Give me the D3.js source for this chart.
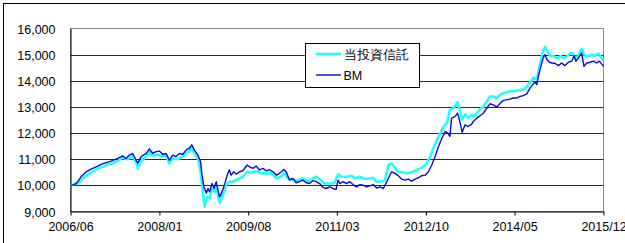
<!DOCTYPE html>
<html>
<head>
<meta charset="utf-8">
<script src="https://cdn.jsdelivr.net/npm/d3@7"></script>
<style>
  html, body { margin: 0; padding: 0; background: #fff; }
  svg { display: block; }
  text { font-family: "Liberation Sans", Arial, sans-serif; fill: #000; }
</style>
</head>
<body>
<script>
// ---- data ----
const seriesNames = ["当投資信託", "BM"];
const yTicks = [9000, 10000, 11000, 12000, 13000, 14000, 15000, 16000];
const xTickLabels = ["2006/06", "2008/01", "2009/08", "2011/03", "2012/10", "2014/05", "2015/12"];

const fundDates = [
"2006-06-01","2006-07-18","2006-08-20","2006-09-22","2006-10-25","2006-11-26","2006-12-29","2007-01-31","2007-03-02","2007-04-04",
"2007-05-06","2007-06-08","2007-07-11","2007-08-02","2007-08-13","2007-09-04","2007-10-06","2007-10-28","2007-11-19","2007-12-21",
"2008-01-23","2008-02-14","2008-03-06","2008-03-27","2008-04-29","2008-06-01","2008-06-22","2008-07-14","2008-07-29","2008-08-16",
"2008-09-07","2008-09-25","2008-10-16","2008-10-21","2008-11-07","2008-11-23","2008-12-08","2008-12-26","2009-01-08","2009-01-21",
"2009-01-30","2009-02-17","2009-03-10","2009-04-01","2009-04-22","2009-05-14","2009-06-06","2009-06-27","2009-07-25","2009-08-21",
"2009-09-22","2009-10-25","2009-11-26","2009-12-29","2010-02-01","2010-03-03","2010-03-25","2010-04-16","2010-05-19","2010-06-20",
"2010-07-23","2010-08-25","2010-09-26","2010-10-18","2010-11-09","2010-12-12","2011-01-14","2011-02-15","2011-03-09","2011-04-01",
"2011-05-03","2011-06-05","2011-06-26","2011-07-29","2011-08-31","2011-10-02","2011-10-24","2011-11-15","2011-12-18","2012-01-09",
"2012-01-31","2012-02-21","2012-03-13","2012-04-04","2012-04-26","2012-05-28","2012-06-30","2012-08-02","2012-09-04","2012-10-06",
"2012-10-28","2012-11-19","2012-12-11","2013-01-02","2013-01-24","2013-02-14","2013-03-06","2013-03-28","2013-04-25","2013-05-10",
"2013-05-25","2013-06-12","2013-07-03","2013-07-26","2013-08-05","2013-08-28","2013-09-18","2013-10-10","2013-11-01","2013-11-22",
"2013-12-14","2014-01-06","2014-01-28","2014-02-17","2014-03-10","2014-04-01","2014-04-22","2014-05-14","2014-06-05","2014-06-26",
"2014-07-19","2014-08-10","2014-09-01","2014-09-14","2014-09-23","2014-10-03","2014-10-19","2014-11-01","2014-11-16","2014-12-01",
"2014-12-18","2015-01-09","2015-02-04","2015-02-25","2015-03-18","2015-04-09","2015-04-27","2015-05-14","2015-05-29","2015-06-20",
"2015-07-12","2015-08-03","2015-08-25","2015-09-16","2015-10-07","2015-10-29","2015-11-20","2015-12-01"
];
const fundValues = [
10000,10070,10270,10420,10520,10650,10710,10800,10840,10930,
11060,11000,11130,10900,10650,10930,11100,11260,11130,11180,
11100,11130,10840,11030,11000,11100,11220,11310,11420,11220,
11030,10520,9430,9180,9560,9500,9880,9750,9940,9430,
9330,9620,10010,10140,10140,10200,10270,10330,10520,10480,
10560,10460,10460,10460,10270,10330,10480,10270,10200,10180,
10270,10140,10270,10330,10230,10070,10070,10100,10420,10330,
10330,10370,10270,10330,10240,10270,10290,10140,10160,10200,
10780,10840,10670,10520,10500,10460,10500,10590,10670,10840,
11100,11420,11740,12000,12250,12380,12890,12950,13180,12890,
12500,12720,12590,12700,12610,12760,12910,13020,13210,13400,
13400,13340,13470,13530,13560,13600,13600,13620,13640,13680,
13760,13940,14110,14070,14050,14360,14750,15130,15300,15130,
14960,14940,14870,14940,14870,14940,15040,15060,14870,14940,
15220,14940,14960,15000,14960,15040,14870,14780
];

const bmDates = [
"2006-06-01","2006-06-26","2006-07-18","2006-08-09","2006-09-11","2006-10-13","2006-11-15","2006-12-17","2007-01-19","2007-02-21",
"2007-04-04","2007-05-06","2007-05-28","2007-06-19","2007-07-11","2007-08-02","2007-08-13","2007-09-04","2007-10-06","2007-10-28",
"2007-11-19","2007-12-10","2008-01-02","2008-01-23","2008-02-14","2008-03-06","2008-03-27","2008-04-18","2008-05-10","2008-06-01",
"2008-06-22","2008-07-14","2008-07-29","2008-08-16","2008-09-07","2008-09-25","2008-10-03","2008-10-16","2008-11-02","2008-11-12",
"2008-11-23","2008-12-08","2008-12-21","2009-01-05","2009-01-16","2009-01-27","2009-02-07","2009-02-27","2009-03-21","2009-04-01",
"2009-04-11","2009-04-29","2009-05-14","2009-06-06","2009-06-27","2009-07-25","2009-08-10","2009-09-01","2009-09-22","2009-10-14",
"2009-11-05","2009-11-26","2009-12-18","2010-01-10","2010-02-01","2010-02-21","2010-03-21","2010-04-05","2010-04-27","2010-05-19",
"2010-06-09","2010-07-01","2010-07-23","2010-08-14","2010-09-05","2010-09-26","2010-10-18","2010-11-09","2010-12-01","2010-12-22",
"2011-01-14","2011-02-04","2011-02-24","2011-03-09","2011-03-20","2011-04-11","2011-05-03","2011-05-24","2011-06-15","2011-07-07",
"2011-07-29","2011-08-19","2011-09-11","2011-10-02","2011-10-24","2011-11-15","2011-12-07","2011-12-29","2012-01-09","2012-01-31",
"2012-02-21","2012-03-13","2012-04-04","2012-04-26","2012-05-17","2012-06-08","2012-06-30","2012-07-22","2012-08-13","2012-09-04",
"2012-09-26","2012-10-17","2012-11-08","2012-11-30","2012-12-21","2013-01-13","2013-02-04","2013-02-20","2013-03-06","2013-03-17",
"2013-04-08","2013-04-25","2013-05-10","2013-05-25","2013-06-12","2013-07-03","2013-07-26","2013-08-05","2013-08-28","2013-09-18",
"2013-10-10","2013-11-01","2013-11-22","2013-12-14","2014-01-06","2014-01-28","2014-02-17","2014-03-10","2014-04-01","2014-04-22",
"2014-05-14","2014-06-05","2014-06-26","2014-07-19","2014-08-10","2014-09-01","2014-09-14","2014-09-23","2014-10-03","2014-10-19",
"2014-11-05","2014-11-16","2014-11-27","2014-12-14","2014-12-30","2015-01-21","2015-02-11","2015-03-03","2015-03-25","2015-04-16",
"2015-05-08","2015-05-23","2015-06-05","2015-06-20","2015-07-12","2015-07-27","2015-08-14","2015-09-05","2015-09-26","2015-10-18",
"2015-11-04","2015-12-01"
];
const bmValues = [
10000,10030,10130,10330,10520,10620,10710,10800,10870,10930,
11030,11130,11030,11160,11220,10960,10850,11100,11220,11390,
11220,11290,11310,11180,11220,10960,11160,11100,11220,11180,
11350,11420,11550,11350,11160,10900,10460,9950,9700,9880,
9750,10070,9880,10140,9820,9560,9690,10010,10460,10590,
10390,10520,10430,10520,10560,10780,10710,10650,10740,10590,
10650,10560,10590,10520,10390,10460,10610,10520,10200,10270,
10100,10140,10200,10100,10070,10180,10140,10070,9920,9880,
9940,9880,9840,10200,10070,10140,10070,10140,10030,9940,
10030,10010,9940,9980,10030,9900,9940,9880,10010,10270,
10520,10460,10370,10240,10200,10240,10160,10240,10290,10370,
10390,10520,10780,11100,11480,11800,12060,12000,11870,12570,
12630,12760,12440,12030,12310,12250,12340,12440,12570,12660,
12760,12950,13120,13080,12990,13150,13250,13270,13300,13340,
13340,13400,13430,13500,13720,13890,13940,13850,14170,14550,
14910,15000,14810,14710,14680,14660,14580,14680,14580,14710,
14750,14960,14750,14870,15060,14550,14680,14710,14750,14680,
14750,14550
];

// ---- chart ----
const W = 625, H = 243;
const parse = d3.timeParse("%Y-%m-%d");
const parseTick = d3.timeParse("%Y/%m");

const svg = d3.select("body").append("svg").attr("width", W).attr("height", H);

// outer frame (extends beyond right/bottom edges)
svg.append("rect").attr("x", 3.5).attr("y", 3.5).attr("width", 700).attr("height", 300)
  .attr("fill", "none").attr("stroke", "#000").attr("stroke-width", 1);

const x = d3.scaleTime()
  .domain([parseTick("2006/06"), parseTick("2015/12")])
  .range([70.5, 603.5]);
const y = d3.scaleLinear().domain([9000, 16000]).range([211.5, 28.5]);

// plot border (grey)
svg.append("rect").attr("x", 70.5).attr("y", 28.5)
  .attr("width", 533).attr("height", 183)
  .attr("fill", "none").attr("stroke", "#8c8c8c").attr("stroke-width", 1);

// gridlines
svg.append("g").selectAll("line").data(yTicks.filter(v => v > 9000 && v < 16000)).join("line")
  .attr("x1", 70.5).attr("x2", 603.5)
  .attr("y1", d => Math.round(y(d)) + 0.5).attr("y2", d => Math.round(y(d)) + 0.5)
  .attr("stroke", "#2a2a2a").attr("stroke-width", 1);

// y axis
const yAxis = d3.axisLeft(y).tickValues(yTicks).tickFormat(d3.format(",")).tickSize(0).tickPadding(15);
const gy = svg.append("g").attr("transform", "translate(70.5,0)").call(yAxis);
gy.select(".domain").attr("stroke", "#000");
gy.selectAll("text").attr("font-size", "12.5px").attr("font-family", "'Liberation Sans', Arial, sans-serif").attr("fill", "#000").attr("dy", "0.36em");

// x axis
const xAxis = d3.axisBottom(x).tickValues(xTickLabels.map(parseTick))
  .tickFormat(d3.timeFormat("%Y/%m")).tickSizeInner(4).tickSizeOuter(0).tickPadding(7);
const gx = svg.append("g").attr("transform", "translate(0,211.5)").call(xAxis);
gx.select(".domain").attr("stroke", "#000");
gx.selectAll(".tick line").attr("stroke", "#000");
gx.selectAll("text").attr("font-size", "12.5px").attr("font-family", "'Liberation Sans', Arial, sans-serif").attr("fill", "#000");

// lines
const fund = fundDates.map((d, i) => ({ date: parse(d), value: fundValues[i] }));
const bm = bmDates.map((d, i) => ({ date: parse(d), value: bmValues[i] }));
const line = d3.line().x(d => x(d.date)).y(d => y(d.value));

svg.append("path").datum(fund).attr("d", line)
  .attr("fill", "none").attr("stroke", "#22ffff").attr("stroke-width", 2.6).attr("stroke-linejoin", "round");
svg.append("path").datum(bm).attr("d", line)
  .attr("fill", "none").attr("stroke", "#0a0ad8").attr("stroke-width", 1.4).attr("stroke-linejoin", "round");

// legend
const lg = svg.append("g");
lg.append("rect").attr("x", 305.5).attr("y", 43.5).attr("width", 114).attr("height", 44)
  .attr("fill", "#fff").attr("stroke", "#000").attr("stroke-width", 1);
const legendItems = [
  { name: seriesNames[0], color: "#22ffff", width: 2.6, y: 54 },
  { name: seriesNames[1], color: "#0a0ad8", width: 1.4, y: 75 }
];
legendItems.forEach(it => {
  lg.append("line").attr("x1", 316).attr("x2", 341).attr("y1", it.y).attr("y2", it.y)
    .attr("stroke", it.color).attr("stroke-width", it.width);
  lg.append("text").attr("x", 343.5).attr("y", it.y).attr("dy", "0.36em")
    .attr("font-size", "12.5px")
    .attr("font-family", "'Liberation Sans', 'Noto Sans CJK JP', sans-serif")
    .text(it.name);
});
</script>
</body>
</html>
